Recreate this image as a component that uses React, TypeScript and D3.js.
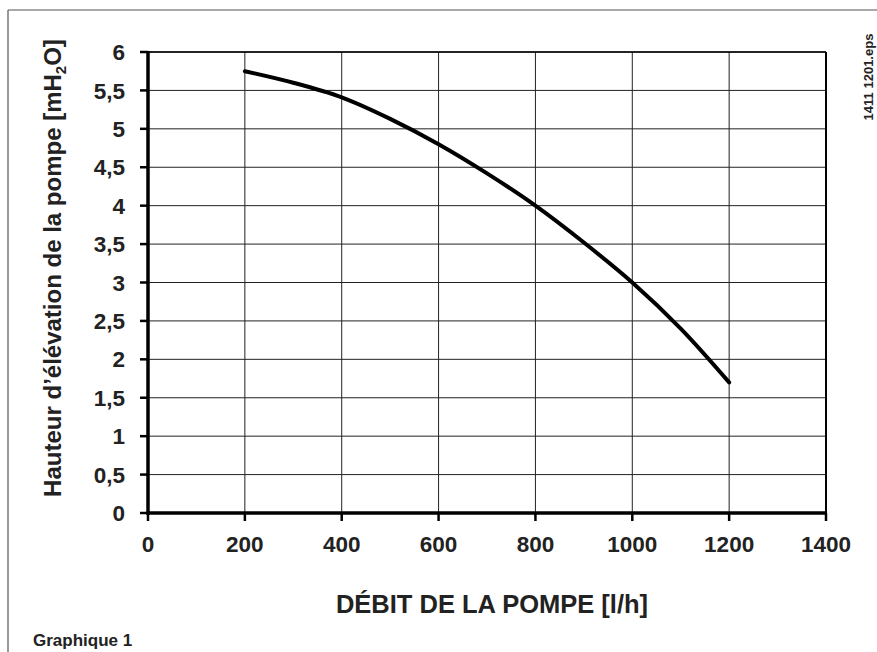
import React from 'react'
import * as d3 from 'd3'

// pump curve
const flow = [200, 300, 400, 500, 600, 700, 800, 900, 1000, 1100, 1200]
const head = [5.75, 5.6, 5.41, 5.13, 4.8, 4.42, 4.0, 3.52, 3.0, 2.4, 1.7]

const xTicks = [0, 200, 400, 600, 800, 1000, 1200, 1400]
const yTicks = [0, 0.5, 1, 1.5, 2, 2.5, 3, 3.5, 4, 4.5, 5, 5.5, 6]

const W = 877
const H = 652
const margin = { top: 52, right: 51, bottom: 139, left: 148 }
const font = '"Liberation Sans", Arial, Helvetica, sans-serif'

export default function App() {
    const x = d3.scaleLinear()
        .domain([0, 1400])
        .range([margin.left, W - margin.right])
    const y = d3.scaleLinear()
        .domain([0, 6])
        .range([H - margin.bottom, margin.top])

    const line = d3.line<number>()
        .x((d, i) => x(flow[i]))
        .y(d => y(d))
        .curve(d3.curveCatmullRom)

    const fmt = (v: number) => String(v).replace('.', ',')
    const x0 = x(0), x1 = x(1400), y0 = y(0), y1 = y(6)

    return (
        <svg width={W} height={H} style={{ position: 'fixed', left: 0, top: 0, background: '#fff' }} fontFamily={font}>
            {/* outer frame */}
            <line x1={8} y1={10} x2={W} y2={10} stroke="#555" strokeWidth={1.2} />
            <line x1={8} y1={10} x2={8} y2={H} stroke="#555" strokeWidth={1.2} />

            {/* grid */}
            {yTicks.map(t => (
                <line key={'gy' + t} x1={x0} x2={x1} y1={y(t)} y2={y(t)} stroke="#222" strokeWidth={1} />
            ))}
            {xTicks.map(t => (
                <line key={'gx' + t} x1={x(t)} x2={x(t)} y1={y1} y2={y0} stroke="#222" strokeWidth={1} />
            ))}
            <line x1={x1} x2={x1} y1={y1} y2={y0} stroke="#000" strokeWidth={2} />
            <line x1={x0} x2={x1} y1={y1} y2={y1} stroke="#000" strokeWidth={1.5} />

            {/* axes */}
            <line x1={x0} x2={x0} y1={y1 - 1} y2={y0 + 2} stroke="#000" strokeWidth={3.5} />
            <line x1={x0 - 1.5} x2={x1 + 1} y1={y0} y2={y0} stroke="#000" strokeWidth={3.5} />
            {yTicks.map(t => (
                <g key={'ty' + t}>
                    <line x1={x0 - 8} x2={x0} y1={y(t)} y2={y(t)} stroke="#000" strokeWidth={2.5} />
                    <text x={x0 - 23} y={y(t)} dy="0.36em" textAnchor="end" fontSize={22.5} fontWeight="bold" fill="#222">{fmt(t)}</text>
                </g>
            ))}
            {xTicks.map(t => (
                <g key={'tx' + t}>
                    <line x1={x(t)} x2={x(t)} y1={y0} y2={y0 + 8} stroke="#000" strokeWidth={2.5} />
                    <text x={x(t)} y={y0 + 39} textAnchor="middle" fontSize={22.5} fontWeight="bold" fill="#222">{fmt(t)}</text>
                </g>
            ))}

            {/* curve */}
            <path d={line(head) || ''} fill="none" stroke="#000" strokeWidth={4} strokeLinecap="round" />

            {/* titles */}
            <text x={492} y={613} textAnchor="middle" fontSize={25.5} fontWeight="bold" fill="#222">DÉBIT DE LA POMPE [l/h]</text>
            <text transform={`translate(61, 268) rotate(-90)`} textAnchor="middle" fontSize={24} fontWeight="bold" fill="#222">
                Hauteur d’élévation de la pompe  [mH<tspan fontSize={15} dy={5}>2</tspan><tspan dy={-5}>O]</tspan>
            </text>
            <text transform="translate(873, 77) rotate(-90)" textAnchor="middle" fontSize={13} fontWeight="bold" fill="#222">1411  1201.eps</text>
            <text x={33} y={646} fontSize={17} fontWeight="bold" fill="#222">Graphique 1</text>
        </svg>
    )
}
